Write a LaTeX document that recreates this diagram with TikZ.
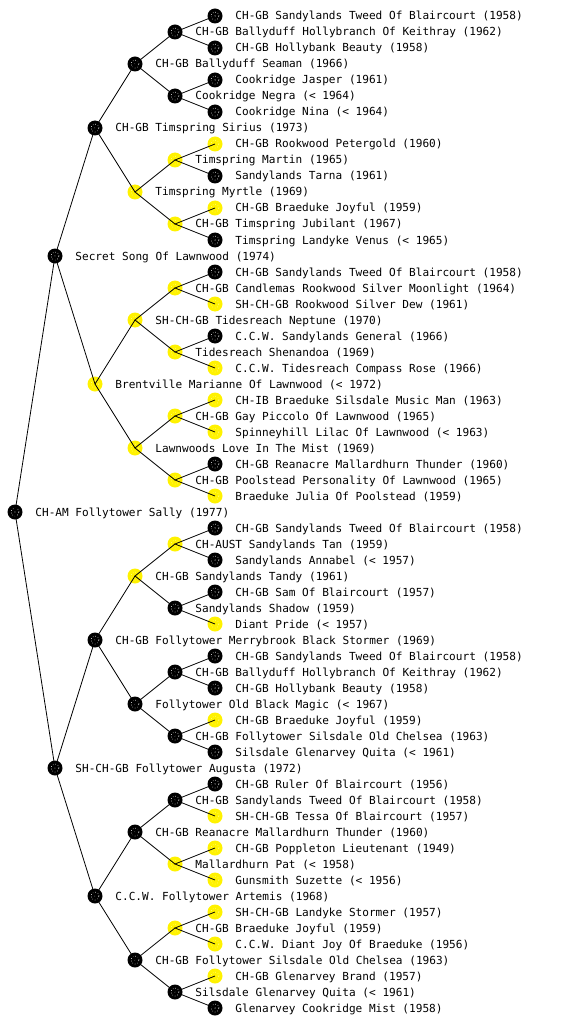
\documentclass[tikz,border=0pt]{standalone}
\usepackage{fontspec}
\newfontfamily\pedfont{DejaVu Sans Mono}

\tikzset{
  dog/.style={circle, minimum size=15pt, inner sep=0pt},
  blk/.style={dog, fill=black,
    path picture={\draw[white, dotted, line width=0.6pt]
      (path picture bounding box.center) circle (4pt);
      \fill[white] (path picture bounding box.center) circle (0.6pt);}},
  ylw/.style={dog, fill=yellow,
    path picture={\draw[yellow!40, dotted, line width=0.6pt]
      (path picture bounding box.center) circle (4pt);}},
  lbl/.style={font=\pedfont\fontsize{11.1}{13}\selectfont, inner sep=0pt,
    anchor=base west, xshift=12.5pt, yshift=-4pt},
  edge/.style={draw=black, line width=0.8pt}
}

\begin{document}
\begin{tikzpicture}[x=1pt, y=-1pt]
  \useasboundingbox (0,0) rectangle (560,1024);

  % root and parents
  \node[blk, label={[lbl]east:CH-AM Follytower Sally (1977)}] (p32) at (15,512) {};
  \node[blk, label={[lbl]east:Secret Song Of Lawnwood (1974)}] (p16) at (55,256) {};
  \node[blk, label={[lbl]east:SH-CH-GB Follytower Augusta (1972)}] (p48) at (55,768) {};

  % grandparents
  \node[blk, label={[lbl]east:CH-GB Timspring Sirius (1973)}] (p8) at (95,128) {};
  \node[ylw, label={[lbl]east:Brentville Marianne Of Lawnwood (< 1972)}] (p24) at (95,384) {};
  \node[blk, label={[lbl]east:CH-GB Follytower Merrybrook Black Stormer (1969)}] (p40) at (95,640) {};
  \node[blk, label={[lbl]east:C.C.W. Follytower Artemis (1968)}] (p56) at (95,896) {};

  % great-grandparents
  \node[blk, label={[lbl]east:CH-GB Ballyduff Seaman (1966)}] (p4) at (135,64) {};
  \node[ylw, label={[lbl]east:Timspring Myrtle (1969)}] (p12) at (135,192) {};
  \node[ylw, label={[lbl]east:SH-CH-GB Tidesreach Neptune (1970)}] (p20) at (135,320) {};
  \node[ylw, label={[lbl]east:Lawnwoods Love In The Mist (1969)}] (p28) at (135,448) {};
  \node[ylw, label={[lbl]east:CH-GB Sandylands Tandy (1961)}] (p36) at (135,576) {};
  \node[blk, label={[lbl]east:Follytower Old Black Magic (< 1967)}] (p44) at (135,704) {};
  \node[blk, label={[lbl]east:CH-GB Reanacre Mallardhurn Thunder (1960)}] (p52) at (135,832) {};
  \node[blk, label={[lbl]east:CH-GB Follytower Silsdale Old Chelsea (1963)}] (p60) at (135,960) {};

  % 4th generation
  \node[blk, label={[lbl]east:CH-GB Ballyduff Hollybranch Of Keithray (1962)}] (p2) at (175,32) {};
  \node[blk, label={[lbl]east:Cookridge Negra (< 1964)}] (p6) at (175,96) {};
  \node[ylw, label={[lbl]east:Timspring Martin (1965)}] (p10) at (175,160) {};
  \node[ylw, label={[lbl]east:CH-GB Timspring Jubilant (1967)}] (p14) at (175,224) {};
  \node[ylw, label={[lbl]east:CH-GB Candlemas Rookwood Silver Moonlight (1964)}] (p18) at (175,288) {};
  \node[ylw, label={[lbl]east:Tidesreach Shenandoa (1969)}] (p22) at (175,352) {};
  \node[ylw, label={[lbl]east:CH-GB Gay Piccolo Of Lawnwood (1965)}] (p26) at (175,416) {};
  \node[ylw, label={[lbl]east:CH-GB Poolstead Personality Of Lawnwood (1965)}] (p30) at (175,480) {};
  \node[ylw, label={[lbl]east:CH-AUST Sandylands Tan (1959)}] (p34) at (175,544) {};
  \node[blk, label={[lbl]east:Sandylands Shadow (1959)}] (p38) at (175,608) {};
  \node[blk, label={[lbl]east:CH-GB Ballyduff Hollybranch Of Keithray (1962)}] (p42) at (175,672) {};
  \node[blk, label={[lbl]east:CH-GB Follytower Silsdale Old Chelsea (1963)}] (p46) at (175,736) {};
  \node[blk, label={[lbl]east:CH-GB Sandylands Tweed Of Blaircourt (1958)}] (p50) at (175,800) {};
  \node[ylw, label={[lbl]east:Mallardhurn Pat (< 1958)}] (p54) at (175,864) {};
  \node[ylw, label={[lbl]east:CH-GB Braeduke Joyful (1959)}] (p58) at (175,928) {};
  \node[blk, label={[lbl]east:Silsdale Glenarvey Quita (< 1961)}] (p62) at (175,992) {};

  % 5th generation
  \node[blk, label={[lbl]east:CH-GB Sandylands Tweed Of Blaircourt (1958)}] (p1) at (215,16) {};
  \node[blk, label={[lbl]east:CH-GB Hollybank Beauty (1958)}] (p3) at (215,48) {};
  \node[blk, label={[lbl]east:Cookridge Jasper (1961)}] (p5) at (215,80) {};
  \node[blk, label={[lbl]east:Cookridge Nina (< 1964)}] (p7) at (215,112) {};
  \node[ylw, label={[lbl]east:CH-GB Rookwood Petergold (1960)}] (p9) at (215,144) {};
  \node[blk, label={[lbl]east:Sandylands Tarna (1961)}] (p11) at (215,176) {};
  \node[ylw, label={[lbl]east:CH-GB Braeduke Joyful (1959)}] (p13) at (215,208) {};
  \node[blk, label={[lbl]east:Timspring Landyke Venus (< 1965)}] (p15) at (215,240) {};
  \node[blk, label={[lbl]east:CH-GB Sandylands Tweed Of Blaircourt (1958)}] (p17) at (215,272) {};
  \node[ylw, label={[lbl]east:SH-CH-GB Rookwood Silver Dew (1961)}] (p19) at (215,304) {};
  \node[blk, label={[lbl]east:C.C.W. Sandylands General (1966)}] (p21) at (215,336) {};
  \node[ylw, label={[lbl]east:C.C.W. Tidesreach Compass Rose (1966)}] (p23) at (215,368) {};
  \node[ylw, label={[lbl]east:CH-IB Braeduke Silsdale Music Man (1963)}] (p25) at (215,400) {};
  \node[ylw, label={[lbl]east:Spinneyhill Lilac Of Lawnwood (< 1963)}] (p27) at (215,432) {};
  \node[blk, label={[lbl]east:CH-GB Reanacre Mallardhurn Thunder (1960)}] (p29) at (215,464) {};
  \node[ylw, label={[lbl]east:Braeduke Julia Of Poolstead (1959)}] (p31) at (215,496) {};
  \node[blk, label={[lbl]east:CH-GB Sandylands Tweed Of Blaircourt (1958)}] (p33) at (215,528) {};
  \node[blk, label={[lbl]east:Sandylands Annabel (< 1957)}] (p35) at (215,560) {};
  \node[blk, label={[lbl]east:CH-GB Sam Of Blaircourt (1957)}] (p37) at (215,592) {};
  \node[ylw, label={[lbl]east:Diant Pride (< 1957)}] (p39) at (215,624) {};
  \node[blk, label={[lbl]east:CH-GB Sandylands Tweed Of Blaircourt (1958)}] (p41) at (215,656) {};
  \node[blk, label={[lbl]east:CH-GB Hollybank Beauty (1958)}] (p43) at (215,688) {};
  \node[ylw, label={[lbl]east:CH-GB Braeduke Joyful (1959)}] (p45) at (215,720) {};
  \node[blk, label={[lbl]east:Silsdale Glenarvey Quita (< 1961)}] (p47) at (215,752) {};
  \node[blk, label={[lbl]east:CH-GB Ruler Of Blaircourt (1956)}] (p49) at (215,784) {};
  \node[ylw, label={[lbl]east:SH-CH-GB Tessa Of Blaircourt (1957)}] (p51) at (215,816) {};
  \node[ylw, label={[lbl]east:CH-GB Poppleton Lieutenant (1949)}] (p53) at (215,848) {};
  \node[ylw, label={[lbl]east:Gunsmith Suzette (< 1956)}] (p55) at (215,880) {};
  \node[ylw, label={[lbl]east:SH-CH-GB Landyke Stormer (1957)}] (p57) at (215,912) {};
  \node[ylw, label={[lbl]east:C.C.W. Diant Joy Of Braeduke (1956)}] (p59) at (215,944) {};
  \node[ylw, label={[lbl]east:CH-GB Glenarvey Brand (1957)}] (p61) at (215,976) {};
  \node[blk, label={[lbl]east:Glenarvey Cookridge Mist (1958)}] (p63) at (215,1008) {};

  % sire/dam lines, drawn over the markers
  \foreach \k/\s in {32/16, 16/8, 48/8, 8/4, 24/4, 40/4, 56/4,
      4/2, 12/2, 20/2, 28/2, 36/2, 44/2, 52/2, 60/2,
      2/1, 6/1, 10/1, 14/1, 18/1, 22/1, 26/1, 30/1,
      34/1, 38/1, 42/1, 46/1, 50/1, 54/1, 58/1, 62/1} {
    \pgfmathtruncatemacro\sire{\k-\s}
    \pgfmathtruncatemacro\dam{\k+\s}
    \draw[edge] (p\sire.center) -- (p\k.center) -- (p\dam.center);
  }
\end{tikzpicture}
\end{document}
